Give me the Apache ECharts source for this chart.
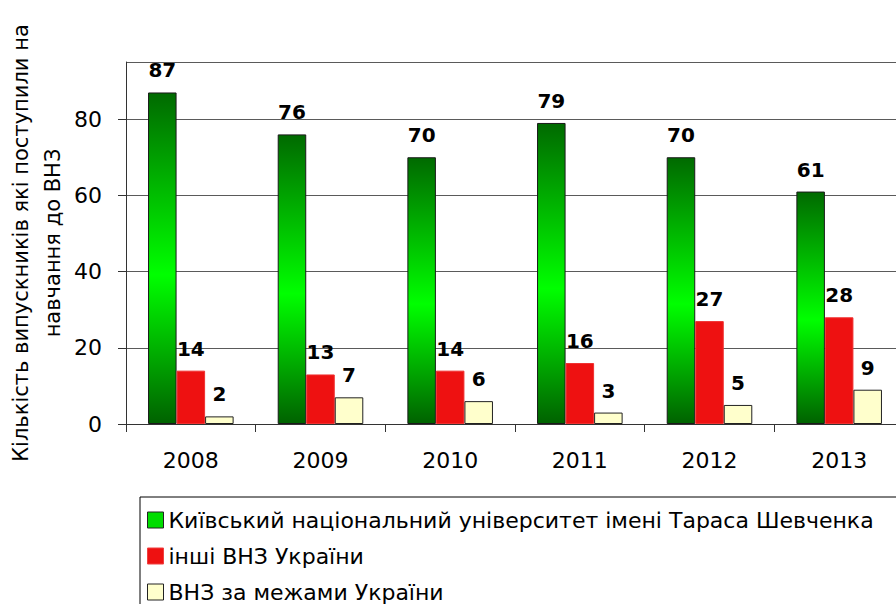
<!DOCTYPE html>
<html>
<head>
<meta charset="utf-8">
<script src="https://cdn.jsdelivr.net/npm/echarts@6/dist/echarts.min.js"></script>
<style>
  html, body { margin: 0; padding: 0; background: #fff; }
  #chart { width: 896px; height: 604px; }
</style>
</head>
<body>
<div id="chart"></div>
<script>
var years = ['2008', '2009', '2010', '2011', '2012', '2013'];
var seriesNames = [
  'Київський національний університет імені Тараса Шевченка',
  'інші ВНЗ України',
  'ВНЗ за межами України'
];
var knuValues = [87, 76, 70, 79, 70, 61];
var otherUaValues = [14, 13, 14, 16, 27, 28];
var abroadValues = [2, 7, 6, 3, 5, 9];
var yTicks = { min: 0, max: 95, interval: 20 };
var yTitle = 'Кількість випускників які поступили на\nнавчання до ВНЗ';

(function() {
  var chart = echarts.init(document.getElementById('chart'), null, { renderer: 'svg' });
  var font = '"DejaVu Sans", Verdana, sans-serif';

  var greenFill = new echarts.graphic.LinearGradient(0, 0, 0, 1, [
    { offset: 0, color: '#006a00' },
    { offset: 0.55, color: '#00ff00' },
    { offset: 1, color: '#006200' }
  ]);

  var valueLabel = {
    show: true,
    position: 'top',
    distance: 12,
    color: '#000',
    fontFamily: font,
    fontWeight: 'bold',
    fontSize: 20
  };

  chart.setOption({
    animation: false,
    grid: { left: 126, top: 62, right: -8, bottom: 180, outerBoundsMode: 'none' },
    legend: {
      orient: 'vertical',
      left: 140,
      top: 497,
      height: 200,
      padding: [10, 60, 40, 7],
      borderColor: '#000',
      borderWidth: 1,
      itemGap: 10,
      itemWidth: 16,
      itemHeight: 16,
      icon: 'rect',
      textStyle: { color: '#000', fontFamily: font, fontSize: 22, lineHeight: 26 },
      data: [
        { name: seriesNames[0], itemStyle: { color: '#00dd00', borderColor: '#222', borderWidth: 1 } },
        { name: seriesNames[1], itemStyle: { color: '#ee1111', borderColor: '#f04040', borderWidth: 1 } },
        { name: seriesNames[2], itemStyle: { color: '#ffffcc', borderColor: '#222', borderWidth: 1 } }
      ]
    },
    xAxis: {
      type: 'category',
      data: years,
      axisLine: { lineStyle: { color: '#333', width: 1 } },
      axisTick: { show: true, length: 8, lineStyle: { color: '#333' } },
      axisLabel: { color: '#000', fontFamily: font, fontSize: 22, margin: 25 }
    },
    yAxis: {
      type: 'value',
      min: yTicks.min,
      max: yTicks.max,
      interval: yTicks.interval,
      name: yTitle,
      nameLocation: 'middle',
      nameGap: 57,
      nameMoveOverlap: false,
      nameRotate: 90,
      nameTextStyle: { color: '#000', fontFamily: font, fontSize: 21, lineHeight: 32 },
      axisLine: { show: true, lineStyle: { color: '#333' } },
      axisTick: { show: true, length: 8, lineStyle: { color: '#333' } },
      axisLabel: { color: '#000', fontFamily: font, fontSize: 22, margin: 24, showMaxLabel: false },
      splitLine: { show: true, lineStyle: { color: '#5a5a5a', width: 1.2 } }
    },
    series: [
      {
        name: seriesNames[0],
        type: 'bar',
        data: knuValues,
        barGap: '0%',
        barCategoryGap: '34%',
        itemStyle: { color: greenFill, borderColor: '#1a1a1a', borderWidth: 1 },
        label: valueLabel
      },
      {
        name: seriesNames[1],
        type: 'bar',
        data: otherUaValues,
        itemStyle: { color: '#ee1111', borderColor: '#f03030', borderWidth: 1 },
        label: valueLabel
      },
      {
        name: seriesNames[2],
        type: 'bar',
        data: abroadValues,
        itemStyle: { color: '#ffffcc', borderColor: '#222', borderWidth: 1 },
        label: valueLabel
      }
    ]
  });
  window.addEventListener('resize', function() { chart.resize(); });
})();
</script>
</body>
</html>
